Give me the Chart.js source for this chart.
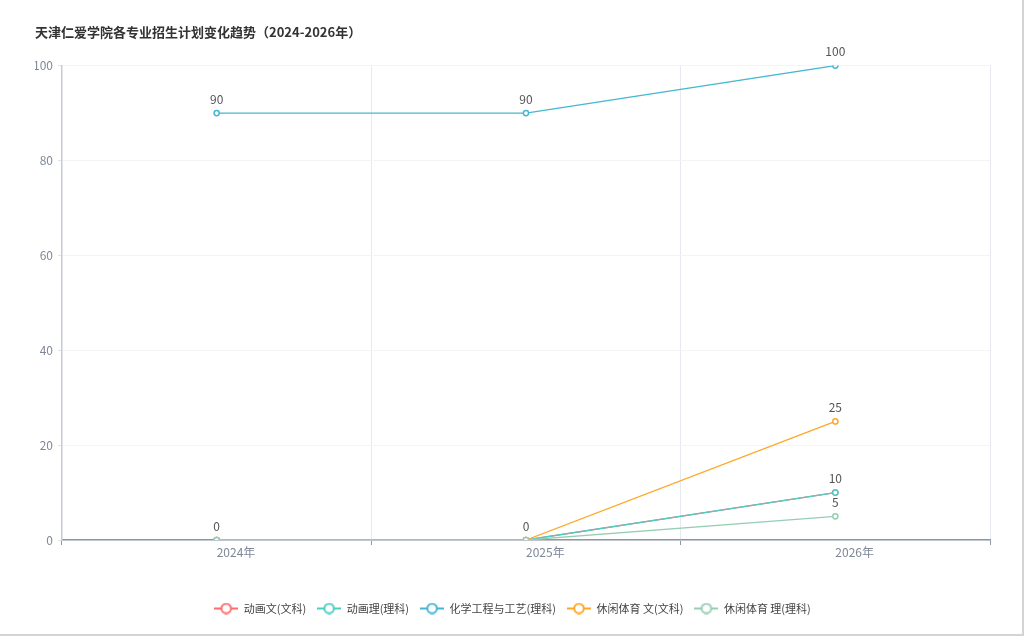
<!DOCTYPE html>
<html>
<head>
<meta charset="utf-8">
<script src="https://cdn.jsdelivr.net/npm/chart.js@4/dist/chart.umd.min.js"></script>
<style>
  html, body { margin: 0; padding: 0; background: #fff; }
  #wrap {
    width: 1024px; height: 636px; box-sizing: border-box;
    border-right: 2px solid #d4d4d4; border-bottom: 2px solid #d4d4d4;
  }
  canvas { display: block; }
</style>
</head>
<body>
<div id="wrap"><canvas id="c" width="1022" height="634"></canvas></div>
<script>
const years = ["2024年", "2025年", "2026年"];
const seriesNames = ["动画文(文科)", "动画理(理科)", "化学工程与工艺(理科)", "休闲体育 文(文科)", "休闲体育 理(理科)"];
const seriesColors = ["#FF6B6B", "#4ECDC4", "#45B7D1", "#FFA726", "#96CEB4"];
const animWen = [0, 0, 10];
const animLi = [0, 0, 10];
const chemEng = [90, 90, 100];
const sportWen = [0, 0, 25];
const sportLi = [0, 0, 5];
const seriesValues = [animWen, animLi, chemEng, sportWen, sportLi];
const yTicks = [0, 20, 40, 60, 80, 100];

const FONT = '"Noto Sans CJK SC", "Noto Sans", sans-serif';

// small line + hollow circle icon for the legend
function legendIcon(color) {
    const cv = document.createElement("canvas");
    cv.width = 24;
    cv.height = 12;
    const g = cv.getContext("2d");
    g.strokeStyle = color;
    g.lineWidth = 2;
    g.beginPath();
    g.moveTo(0, 6);
    g.lineTo(24, 6);
    g.stroke();
    g.beginPath();
    g.arc(12, 6, 4.8, 0, Math.PI * 2);
    g.fillStyle = "#fff";
    g.fill();
    g.stroke();
    return cv;
}
const icons = seriesColors.map(legendIcon);

const valueLabels = {
    id: "valueLabels",
    afterDatasetsDraw(chart) {
        const ctx = chart.ctx;
        const seen = new Set();
        ctx.save();
        ctx.font = "12px " + FONT;
        ctx.fillStyle = "#555";
        ctx.textAlign = "center";
        ctx.textBaseline = "middle";
        chart.data.datasets.forEach((ds, i) => {
            const meta = chart.getDatasetMeta(i);
            meta.data.forEach((pt, j) => {
                const v = ds.data[j];
                if (v == null) return;
                const key = Math.round(pt.x) + "," + Math.round(pt.y);
                if (seen.has(key)) return;
                seen.add(key);
                ctx.fillText(String(v), pt.x, pt.y - 14);
            });
        });
        ctx.restore();
    }
};

const datasets = seriesNames.map((name, i) => ({
    label: name,
    data: seriesValues[i],
    borderColor: seriesColors[i],
    backgroundColor: "#fff",
    pointBorderColor: seriesColors[i],
    pointBackgroundColor: "#fff",
    borderWidth: 1.3,
    pointRadius: 2.6,
    pointBorderWidth: 1.5,
    tension: 0,
    order: seriesNames.length - i
}));

new Chart(document.getElementById("c"), {
    type: "line",
    data: { labels: years, datasets },
    plugins: [valueLabels],
    options: {
        responsive: false,
        animation: false,
        devicePixelRatio: 1,
        layout: { padding: { top: 20, left: 35, right: 32, bottom: 10 } },
        plugins: {
            tooltip: { enabled: false },
            title: {
                display: true,
                text: "天津仁爱学院各专业招生计划变化趋势（2024-2026年）",
                align: "start",
                color: "#333",
                font: { family: FONT, size: 13, weight: "bold" },
                padding: { top: 4, bottom: 26 }
            },
            legend: {
                position: "bottom",
                labels: {
                    usePointStyle: true,
                    pointStyleWidth: 24,
                    padding: 11,
                    color: "#444",
                    font: { family: FONT, size: 11 },
                    generateLabels(chart) {
                        return chart.data.datasets.map((ds, i) => ({
                            text: ds.label,
                            pointStyle: icons[i],
                            fillStyle: seriesColors[i],
                            strokeStyle: seriesColors[i],
                            lineWidth: 0,
                            hidden: !chart.isDatasetVisible(i),
                            datasetIndex: i,
                            fontColor: "#444"
                        }));
                    }
                }
            }
        },
        scales: {
            x: {
                type: "category",
                offset: true,
                afterFit(scale) { scale.height = 52; },
                grid: {
                    offset: true,
                    color: "#e6e9f0",
                    tickColor: "#8f96a3",
                    tickLength: 5
                },
                border: { color: "#8f96a3", width: 1.5 },
                ticks: {
                    align: "start",
                    padding: 0,
                    color: "#7f8896",
                    font: { family: FONT, size: 12 }
                }
            },
            y: {
                min: 0,
                max: 100,
                afterFit(scale) { scale.width = 27; },
                afterBuildTicks(scale) { scale.ticks = yTicks.map(v => ({ value: v })); },
                grid: {
                    color: "#f3f4f6",
                    tickColor: "#dfe2e8",
                    tickLength: 4
                },
                border: { color: "#c5cad3", width: 1.5 },
                ticks: {
                    padding: 5,
                    color: "#7f8896",
                    font: { family: FONT, size: 12 }
                }
            }
        }
    }
});
</script>
</body>
</html>
